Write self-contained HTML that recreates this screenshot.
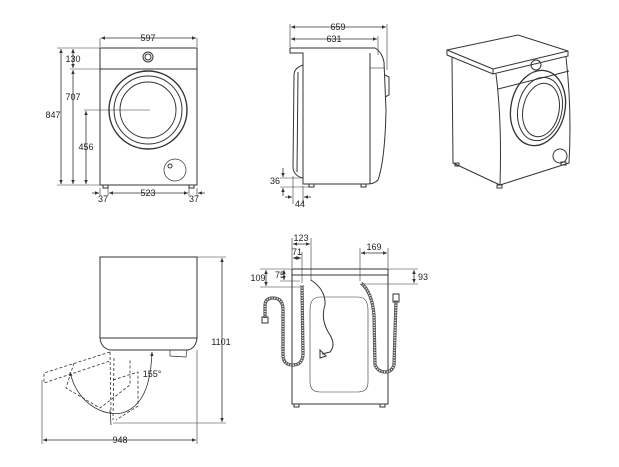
<!DOCTYPE html>
<html><head><meta charset="utf-8"><style>
html,body{margin:0;padding:0;background:#fff;width:619px;height:467px;overflow:hidden}
svg text{font-family:"Liberation Sans",sans-serif;font-size:9px;fill:#222;text-anchor:middle}
</style></head><body>
<svg width="619" height="467" viewBox="0 0 619 467" xmlns="http://www.w3.org/2000/svg">
<defs><marker id="a" markerWidth="6" markerHeight="6" refX="5" refY="3" orient="auto-start-reverse"><path d="M0,0.8 L5,3 L0,5.2" fill="#333"/></marker></defs>
<g fill="none" stroke="#333" stroke-width="1">
<rect x="100" y="48" width="97" height="137"/>
<line x1="100" y1="69" x2="197" y2="69"/>
<circle cx="148" cy="57" r="5"/><circle cx="148" cy="57" r="3"/>
<circle cx="148" cy="110" r="39" stroke-width="1.4"/>
<circle cx="148" cy="110" r="34"/>
<circle cx="148" cy="110" r="28"/>
<circle cx="175" cy="170" r="11" stroke-width="0.7"/>
<circle cx="170" cy="166" r="2"/>
<rect x="103" y="185" width="5" height="3"/><rect x="189" y="185" width="5" height="3"/>
<g stroke-width="0.6">
<line x1="100" y1="38" x2="100" y2="47"/><line x1="197" y1="38" x2="197" y2="47"/>
<line x1="57" y1="48" x2="100" y2="48"/><line x1="70" y1="69" x2="100" y2="69"/>
<line x1="84" y1="110" x2="150" y2="110"/><line x1="57" y1="185" x2="100" y2="185"/>
<line x1="100" y1="188" x2="100" y2="196"/><line x1="197" y1="188" x2="197" y2="196"/>
<line x1="108" y1="188" x2="108" y2="196"/><line x1="189" y1="188" x2="189" y2="196"/>
</g>
<g stroke-width="0.8" marker-start="url(#a)" marker-end="url(#a)">
<line x1="101" y1="38" x2="196" y2="38"/>
<line x1="61" y1="49" x2="61" y2="184"/>
<line x1="73" y1="49" x2="73" y2="68"/>
<line x1="73" y1="70" x2="73" y2="184"/>
<line x1="86" y1="111" x2="86" y2="184"/>
<line x1="109" y1="193" x2="188" y2="193"/>
</g>
<line x1="92" y1="193" x2="99" y2="193" marker-end="url(#a)" stroke-width="0.8"/>
<line x1="205" y1="193" x2="198" y2="193" marker-end="url(#a)" stroke-width="0.8"/>
<path d="M290,48 H375 Q382,52 384,62 L386,110 Q385,160 378,180 Q374,184 368,184 H303 V53 H290 Z"/>
<line x1="370" y1="53" x2="370" y2="184"/>
<line x1="370" y1="68" x2="384" y2="68" stroke-width="0.6"/>
<path d="M303,65 Q294,68 294,75 L293,168 Q294,176 303,178"/>
<path d="M298,72 L297,172"/>
<path d="M385,75 L389,77 L389,95 L385,97"/>
<rect x="309" y="184" width="5" height="3"/><rect x="361" y="184" width="5" height="3"/>
<g stroke-width="0.6">
<line x1="290" y1="24" x2="290" y2="47"/><line x1="387" y1="24" x2="387" y2="70"/><line x1="378" y1="36" x2="378" y2="55"/>
<line x1="280" y1="178" x2="303" y2="178"/><line x1="280" y1="187" x2="312" y2="187"/>
<line x1="293" y1="176" x2="293" y2="204"/><line x1="303" y1="186" x2="303" y2="204"/>
</g>
<g stroke-width="0.8" marker-start="url(#a)" marker-end="url(#a)">
<line x1="291" y1="27" x2="386" y2="27"/>
<line x1="291" y1="39" x2="377" y2="39"/>
</g>
<line x1="283" y1="168" x2="283" y2="177" marker-end="url(#a)" stroke-width="0.8"/>
<line x1="283" y1="196" x2="283" y2="188" marker-end="url(#a)" stroke-width="0.8"/>
<line x1="285" y1="197" x2="292" y2="197" marker-end="url(#a)" stroke-width="0.8"/>
<line x1="311" y1="197" x2="304" y2="197" marker-end="url(#a)" stroke-width="0.8"/>
<path d="M447,50 L518,35 L568,51 L568,56 L493,74 L447,55 Z"/>
<line x1="447" y1="50" x2="493" y2="69"/><line x1="493" y1="69" x2="568" y2="51"/>
<line x1="493" y1="69" x2="493" y2="74"/>
<path d="M452,57 L453,163 L500,185"/>
<path d="M496,74 Q502,120 500,185 L569,163 Q572,110 566,57"/>
<line x1="498" y1="89" x2="569" y2="71"/>
<ellipse cx="538" cy="108" rx="27" ry="38" transform="rotate(12 538 108)" stroke-width="1.3"/>
<ellipse cx="540" cy="109" rx="22" ry="32" transform="rotate(12 540 109)"/>
<ellipse cx="541" cy="110" rx="18" ry="27" transform="rotate(12 541 110)"/>
<circle cx="536" cy="65" r="5"/>
<circle cx="560" cy="156" r="7"/>
<rect x="455" y="163" width="4" height="3"/><rect x="497" y="185" width="5" height="3"/><rect x="561" y="162" width="5" height="3"/>
<path d="M100,257 H197 V338 Q196,348 188,350 H110 Q101,348 100,338 Z"/>
<line x1="100" y1="338" x2="197" y2="338"/>
<path d="M170,350 L170,356 L186,357 L187,350" stroke-width="0.7"/>
<g stroke-dasharray="3,2" stroke-width="0.8">
<path d="M110,352 L44,373 L44,383 L110,361"/>
<path d="M74,363 L66,388 L100,408 L130,385 L130,360"/>
<path d="M110,352 L111,413"/>
<path d="M114,358 L113,420"/>
<path d="M113,380 L138,372 L138,406 L116,420"/>
</g>
<path d="M110,410 L111,425" stroke-width="0.8"/>
<path d="M70,372 C78,408 110,418 125,412 C145,404 151,380 152,352" marker-start="url(#a)" marker-end="url(#a)" stroke-width="0.8"/>
<g stroke-width="0.6">
<line x1="197" y1="257" x2="226" y2="257"/><line x1="113" y1="423" x2="226" y2="423"/>
<line x1="42" y1="380" x2="42" y2="444"/><line x1="197" y1="350" x2="197" y2="444"/>
</g>
<g stroke-width="0.8" marker-start="url(#a)" marker-end="url(#a)">
<line x1="222" y1="258" x2="222" y2="422"/>
<line x1="43" y1="440" x2="196" y2="440"/>
</g>
<rect x="292" y="269" width="96" height="135"/>
<line x1="292" y1="275" x2="388" y2="275"/>
<path d="M320,297 H358 Q368,297 368,310 V382 Q368,392 358,392 H320 Q310,392 310,382 V310 Q310,297 320,297 Z" stroke-width="0.6"/>
<rect x="294" y="404" width="5" height="3"/><rect x="380" y="404" width="5" height="3"/>
<g stroke-width="3.2" stroke="#555">
<path d="M302,285 L303,355 Q302,365 293,365 Q283,365 283,355 L283,310 Q283,298 273,298 Q265,298 265,306 L265,318"/>
<path d="M361,283 Q372,292 374,315 L375,365 Q378,372 385,372 Q392,372 394,365 L396,300"/>
</g>
<g stroke-width="1.6" stroke="#fff" stroke-dasharray="1,1.5">
<path d="M302,285 L303,355 Q302,365 293,365 Q283,365 283,355 L283,310 Q283,298 273,298 Q265,298 265,306 L265,318"/>
<path d="M361,283 Q372,292 374,315 L375,365 Q378,372 385,372 Q392,372 394,365 L396,300"/>
</g>
<rect x="262" y="317" width="6" height="6"/>
<rect x="393" y="294" width="6" height="8"/>
<path d="M311,280 Q326,290 325,305 Q320,320 330,335 Q336,345 330,352 L322,354"/>
<path d="M320,350 L326,356 L320,358 Z"/>
<g stroke-width="0.6">
<line x1="292" y1="238" x2="292" y2="268"/><line x1="311" y1="238" x2="311" y2="281"/>
<line x1="302" y1="252" x2="302" y2="283"/>
<line x1="360" y1="248" x2="360" y2="281"/><line x1="388" y1="248" x2="388" y2="268"/>
<line x1="260" y1="269" x2="292" y2="269"/><line x1="260" y1="287" x2="300" y2="287"/>
<line x1="280" y1="281" x2="300" y2="281"/>
<line x1="388" y1="269" x2="418" y2="269"/><line x1="362" y1="284" x2="418" y2="284"/>
</g>
<g stroke-width="0.8" marker-start="url(#a)" marker-end="url(#a)">
<line x1="293" y1="244" x2="310" y2="244"/>
<line x1="293" y1="258" x2="301" y2="258"/>
<line x1="361" y1="253" x2="387" y2="253"/>
<line x1="266" y1="270" x2="266" y2="286"/>
<line x1="284" y1="270" x2="284" y2="280"/>
<line x1="414" y1="270" x2="414" y2="283"/>
</g>
</g>
<text x="148" y="41">597</text>
<text x="73" y="62">130</text>
<text x="73" y="100">707</text>
<text x="53" y="118">847</text>
<text x="86" y="150">456</text>
<text x="103" y="202">37</text>
<text x="148" y="196">523</text>
<text x="194" y="202">37</text>
<text x="338" y="30">659</text>
<text x="334" y="42">631</text>
<text x="275" y="184">36</text>
<text x="300" y="207">44</text>
<text x="152" y="377">155°</text>
<text x="221" y="345">1101</text>
<text x="120" y="443">948</text>
<text x="301" y="241">123</text>
<text x="297" y="255">71</text>
<text x="374" y="250">169</text>
<text x="258" y="281">109</text>
<text x="280" y="278">75</text>
<text x="423" y="280">93</text>
</svg>
</body></html>
